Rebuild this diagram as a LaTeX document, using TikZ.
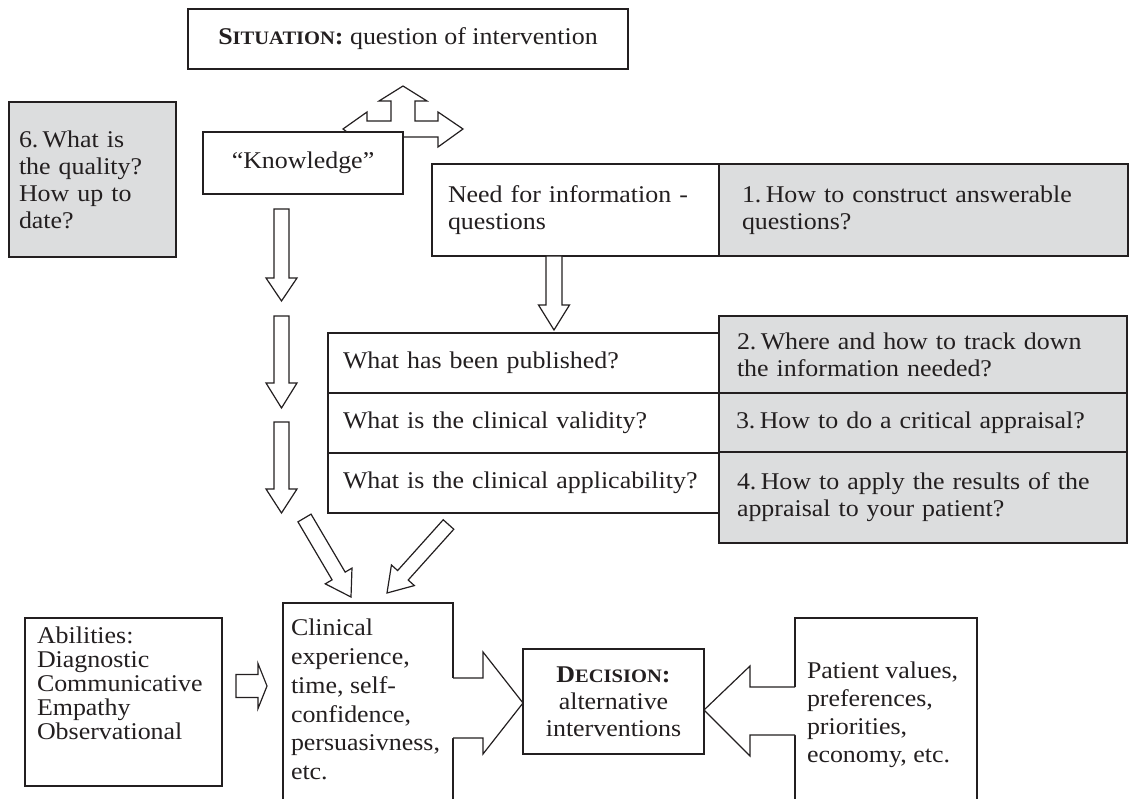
\documentclass[tikz,border=0pt]{standalone}
\usepackage{fontspec}
\setmainfont{Liberation Serif}[FakeStretch=1.08]
\usetikzlibrary{calc}
\definecolor{lc}{HTML}{231F20}
\definecolor{gfill}{HTML}{DCDDDE}
\newcommand\myfs{\fontsize{24}{27}\selectfont}
\newcommand\fsc[2]{{\bfseries #1{\fontsize{19}{19}\selectfont #2}:}}
\newcommand\nsp{\hspace{0.18em}}
\newcommand\blockarrow[5]{%
  \coordinate (ba-c) at ($(#2)!#5!(#1)$);
  \draw[blk] ($(#1)!#3!90:(#2)$) -- ($(ba-c)!#3!90:(#2)$) -- ($(ba-c)!#4!90:(#2)$) -- (#2) -- ($(ba-c)!#4!-90:(#2)$) -- ($(ba-c)!#3!-90:(#2)$) -- ($(#1)!#3!-90:(#2)$) -- cycle;}
\begin{document}
\begin{tikzpicture}[x=1pt,y=-1pt,
  box/.style={draw=lc, line width=1.2pt, fill=white, inner sep=0pt, outer sep=0pt, text=lc, font=\myfs},
  gbox/.style={box, fill=gfill},
  blk/.style={draw=lc, line width=1.2pt, fill=white, line join=miter},
  lnk/.style={draw=lc, line width=1.2pt, line join=miter},
  tx/.style={inner sep=0pt, outer sep=0pt, text=lc, align=left, anchor=north west}]
\useasboundingbox (0,0) rectangle (1129,799);
\clip (0,0) rectangle (1129,799);

% three-way arrow behind the Knowledge box
\draw[blk] (343,129) -- (367,112) -- (367,121) -- (391,121) -- (391,101) -- (379,101) -- (403,86) -- (427,101) -- (415,101) -- (415,121) -- (438,121) -- (438,112) -- (463,129) -- (438,147) -- (438,137) -- (367,137) -- (367,147) -- cycle;

% boxes
\node[box, minimum width=440pt, minimum height=60pt] (sit) at (408,39) {\fsc{S}{ITUATION} question of intervention};
\node[gbox, minimum width=167pt, minimum height=155pt, text width=147pt, align=left] (q6) at (92.5,179.5) {6.\nsp What is\\the quality?\\How up to\\date?};
\node[box, minimum width=200pt, minimum height=62pt] (know) at (303,163) {``Knowledge''};
\node[box, minimum width=287pt, minimum height=92pt, text width=255pt, align=left] (need) at (575.5,210) {Need for information -\\questions};
\node[gbox, minimum width=409pt, minimum height=92pt, text width=363pt, align=left] (g1) at (923.5,210) {1.\nsp How to construct answerable\\questions?};

\node[box, minimum width=391pt, minimum height=60pt, text width=361pt, align=left] (r1) at (523.5,363) {What has been published?};
\node[box, minimum width=391pt, minimum height=60pt, text width=361pt, align=left] (r2) at (523.5,423) {What is the clinical validity?};
\node[box, minimum width=391pt, minimum height=60pt, text width=361pt, align=left] (r3) at (523.5,483) {What is the clinical applicability?};
\node[gbox, minimum width=408pt, minimum height=77pt, text width=372pt, align=left] (g2) at (923,354.5) {2.\nsp Where and how to track down\\the information needed?};
\node[gbox, minimum width=408pt, minimum height=59pt, text width=374pt, align=left] (g3) at (923,422.5) {3.\nsp How to do a critical appraisal?};
\node[gbox, minimum width=408pt, minimum height=91pt, text width=372pt, align=left] (g4) at (923,497.5) {4.\nsp How to apply the results of the\\appraisal to your patient?};

\node[box, minimum width=197pt, minimum height=168pt] (abil) at (123.5,702) {};
\node[tx, font=\fontsize{24}{24}\selectfont] (abilt) at (37,627) {Abilities:\\Diagnostic\\Communicative\\Empathy\\Observational};
\node[box, minimum width=170pt, minimum height=227pt] (clin) at (368,716.5) {};
\node[tx, font=\fontsize{24}{28.8}\selectfont] (clint) at (291,619) {Clinical\\experience,\\time, self-\\confidence,\\persuasivness,\\etc.};
\node[box, minimum width=181pt, minimum height=105pt, align=center] (dec) at (613.5,701.5) {\fsc{D}{ECISION}\\alternative\\interventions};
\node[box, minimum width=182pt, minimum height=212pt] (pat) at (886,724) {};
\node[tx, font=\fontsize{24}{28}\selectfont] (patt) at (807,662) {Patient values,\\preferences,\\priorities,\\economy, etc.};

% hollow block arrows
\coordinate (d1s) at (281.5,209); \coordinate (d1e) at (281.5,301);
\coordinate (d2s) at (281.5,316); \coordinate (d2e) at (281.5,408);
\coordinate (d3s) at (281.5,422); \coordinate (d3e) at (281.5,513);
\coordinate (nds) at (554,256);   \coordinate (nde) at (554,330);
\coordinate (das) at (304.5,518); \coordinate (dae) at (351,597);
\coordinate (dbs) at (448.5,524.5); \coordinate (dbe) at (387,593);
\coordinate (abs) at (236,686);   \coordinate (abe) at (267,686);
\blockarrow{d1s}{d1e}{7.5pt}{15.5pt}{23pt}
\blockarrow{d2s}{d2e}{7.5pt}{15.5pt}{25pt}
\blockarrow{d3s}{d3e}{7.5pt}{15.5pt}{24pt}
\blockarrow{nds}{nde}{8pt}{15.5pt}{25pt}
\blockarrow{das}{dae}{7.6pt}{15.5pt}{24.4pt}
\blockarrow{dbs}{dbe}{7.1pt}{15.4pt}{23.8pt}
\blockarrow{abs}{abe}{11.5pt}{22.5pt}{9pt}

% arrows merged with the boxes
\fill[white] (447,678) -- (483,678) -- (483,652) -- (523,703) -- (483,754) -- (483,738) -- (447,738) -- cycle;
\draw[lnk] (453,678) -- (483,678) -- (483,652) -- (523,703) -- (483,754) -- (483,738) -- (453,738);
\fill[white] (801,687) -- (750,687) -- (750,666) -- (704,710) -- (750,756) -- (750,735) -- (801,735) -- cycle;
\draw[lnk] (795,687) -- (750,687) -- (750,666) -- (704,710) -- (750,756) -- (750,735) -- (795,735);
\end{tikzpicture}
\end{document}
